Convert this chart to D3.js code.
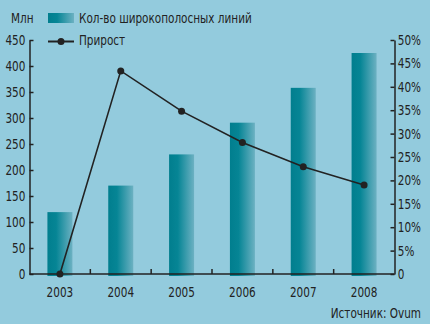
<!DOCTYPE html>
<html>
<head>
<meta charset="utf-8">
<script src="https://cdn.jsdelivr.net/npm/d3@7"></script>
<style>
  html, body { margin: 0; padding: 0; background: #93cbdd; }
  svg { display: block; }
  text { font-family: "Liberation Sans Narrow", "DejaVu Sans Condensed", "Liberation Sans", sans-serif; fill: #222; }
</style>
</head>
<body>
<svg id="chart" width="430" height="324"></svg>
<script>
// Broadband lines (millions) and annual growth (%)
const years = ["2003", "2004", "2005", "2006", "2007", "2008"];
const lines = [119, 170, 230, 291, 358, 425];
const growth = [0, 43.4, 34.8, 28.1, 22.9, 19.0];
const leftTicks = [0, 50, 100, 150, 200, 250, 300, 350, 400, 450];
const rightTicks = [0, 5, 10, 15, 20, 25, 30, 35, 40, 45, 50];

const svg = d3.select("#chart");
const plotLeft = 29.5, plotRight = 394.5, plotTop = 40, plotBottom = 274;
const SQ = 0.83; // horizontal squeeze for a condensed look

const x = d3.scaleBand().domain(years).range([plotLeft, plotRight]);
const yL = d3.scaleLinear().domain([0, 450]).range([plotBottom, plotTop]);
const yR = d3.scaleLinear().domain([0, 50]).range([plotBottom, plotTop]);

// Condensed text placed at (tx, ty)
function label(parent, tx, ty, str, anchor) {
  return parent.append("g").attr("transform", `translate(${tx},${ty}) scale(${SQ},1)`)
    .append("text").attr("text-anchor", anchor || "start")
    .style("font-size", "14px").text(str);
}

// Bar gradient: dark teal fading to a pale teal on the right
const defs = svg.append("defs");
const grad = defs.append("linearGradient").attr("id", "barGrad")
  .attr("x1", "0").attr("x2", "1").attr("y1", "0").attr("y2", "0");
grad.append("stop").attr("offset", "0%").attr("stop-color", "#017e8e");
grad.append("stop").attr("offset", "35%").attr("stop-color", "#068595");
grad.append("stop").attr("offset", "100%").attr("stop-color", "#6cb1c2");

const barW = 25;
svg.append("g").selectAll("rect").data(years).join("rect")
  .attr("x", (d) => x(d) + x.bandwidth() / 2 - barW / 2)
  .attr("y", (d, i) => yL(lines[i]))
  .attr("width", barW)
  .attr("height", (d, i) => yL(0) - yL(lines[i]) + 2)
  .attr("fill", "url(#barGrad)");

// Left axis
const gL = svg.append("g").attr("transform", `translate(${plotLeft},0)`)
  .call(d3.axisLeft(yL).tickValues(leftTicks).tickSize(-4).tickPadding(5).tickSizeOuter(0));
gL.select(".domain").attr("stroke", "#222").attr("stroke-width", 1.5);
gL.selectAll(".tick line").attr("stroke", "#222").attr("stroke-width", 1.5);
gL.selectAll(".tick text").style("font-size", "14px").attr("fill", "#222")
  .attr("transform", `scale(${SQ},1)`);

// Right axis
const gR = svg.append("g").attr("transform", `translate(${plotRight},0)`)
  .call(d3.axisRight(yR).tickValues(rightTicks).tickSize(-4).tickPadding(4).tickSizeOuter(0)
    .tickFormat((d) => d === 0 ? "0" : d + "%"));
gR.select(".domain").attr("stroke", "#222").attr("stroke-width", 1.5);
gR.selectAll(".tick line").attr("stroke", "#222").attr("stroke-width", 1.5);
gR.selectAll(".tick text").style("font-size", "14px").attr("fill", "#222")
  .attr("transform", `scale(${SQ},1)`);

// Bottom axis with ticks between categories
svg.append("line").attr("x1", plotLeft).attr("x2", plotRight).attr("y1", plotBottom).attr("y2", plotBottom)
  .attr("stroke", "#222").attr("stroke-width", 1.5);
svg.append("g").selectAll("line").data(years.slice(1)).join("line")
  .attr("x1", (d) => x(d)).attr("x2", (d) => x(d))
  .attr("y1", plotBottom).attr("y2", plotBottom - 5)
  .attr("stroke", "#222").attr("stroke-width", 1.5);
const gX = svg.append("g");
years.forEach((d) => label(gX, x(d) + x.bandwidth() / 2, 297, d, "middle"));

// Growth line
const cx = (d, i) => x(years[i]) + x.bandwidth() / 2;
const line = d3.line().x(cx).y((d) => yR(d));
svg.append("path").datum(growth).attr("d", line)
  .attr("fill", "none").attr("stroke", "#222").attr("stroke-width", 1.6);
svg.append("g").selectAll("circle").data(growth).join("circle")
  .attr("cx", cx).attr("cy", (d) => yR(d)).attr("r", 3.5).attr("fill", "#222");

// Units label
label(svg, 11, 23, "Млн");

// Legend
svg.append("rect").attr("x", 48).attr("y", 13).attr("width", 26).attr("height", 10).attr("fill", "url(#barGrad)");
label(svg, 79, 23, "Кол-во широкополосных линий");
svg.append("line").attr("x1", 48).attr("x2", 74).attr("y1", 41.5).attr("y2", 41.5)
  .attr("stroke", "#222").attr("stroke-width", 2);
svg.append("circle").attr("cx", 61).attr("cy", 41.5).attr("r", 3.5).attr("fill", "#222");
label(svg, 79, 45, "Прирост");

// Source note
label(svg, 421, 318, "Источник: Ovum", "end");
</script>
</body>
</html>
